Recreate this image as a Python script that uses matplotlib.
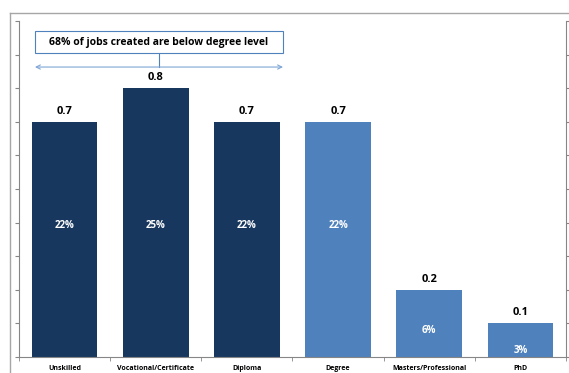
import matplotlib.pyplot as plt
from matplotlib.lines import Line2D
from matplotlib.patches import Rectangle
import numpy as np

categories = ['Unskilled', 'Vocational/Certificate', 'Diploma', 'Degree',
              'Masters/Professional', 'PhD']
values = [0.7, 0.8, 0.7, 0.7, 0.2, 0.1]
shares = ['22%', '25%', '22%', '22%', '6%', '3%']
share_label_y = [0.39, 0.39, 0.39, 0.39, 0.08, 0.02]
below_degree = [True, True, True, False, False, False]
note = '68% of jobs created are below degree level'

dark = '#17375E'
light = '#4F81BD'
axis_grey = '#868686'

plt.rcParams['font.family'] = ['Open Sans', 'DejaVu Sans']

fig = plt.figure(figsize=(5.69, 3.73), dpi=100)
ax = fig.add_axes([19 / 569, 16 / 373, 547 / 569, 336 / 373])

x = np.arange(len(categories))
colors = [dark if b else light for b in below_degree]
ax.bar(x, values, width=0.72, color=colors, zorder=2)

for xi, v, s, sy in zip(x, values, shares, share_label_y):
    ax.text(xi, v + 0.015, f'{v:.1f}', ha='center', va='bottom',
            fontsize=8, fontweight='bold', color='black')
    ax.text(xi, sy, s, ha='center', va='center',
            fontsize=7, fontweight='bold', color='white')

ax.set_xlim(-0.5, len(categories) - 0.5)
ax.set_ylim(0, 1.0)
ax.set_xticks(x)
ax.set_xticklabels(categories, fontsize=5, fontweight='bold')
ax.set_xticks(np.arange(-0.5, len(categories)), minor=True)
ax.tick_params(axis='x', which='major', length=0, pad=6)
ax.tick_params(axis='x', which='minor', length=3, color=axis_grey)
ax.set_yticks(np.arange(0, 1.01, 0.1))
ax.tick_params(axis='y', which='major', length=3, color=axis_grey,
               labelleft=False, right=True)
ax.spines['top'].set_visible(False)
for side in ['left', 'right', 'bottom']:
    ax.spines[side].set_color(axis_grey)
    ax.spines[side].set_linewidth(0.8)

# bracket arrow over the three below-degree bars, with a note box
x0, x1 = -0.325, 2.396
xm = (x0 + x1) / 2
ax.annotate('', xy=(x0, 0.863), xytext=(x1, 0.863),
            arrowprops=dict(arrowstyle='<->,head_length=0.3,head_width=0.15',
                            color='#7FA6D6', lw=0.8, shrinkA=0, shrinkB=0))
ax.plot([xm, xm], [0.863, 0.904], color=light, lw=0.8)
ax.add_patch(Rectangle((x0, 0.904), x1 - x0, 0.066, facecolor='white',
                       edgecolor=light, lw=0.8, zorder=3))
ax.text(xm, 0.937, note, ha='center', va='center', fontsize=7.5,
        fontweight='bold', zorder=4)

# outer frame lines
fig.add_artist(Line2D([10 / 569, 1], [1 - 13 / 373, 1 - 13 / 373],
                      color='#A6A6A6', lw=1))
fig.add_artist(Line2D([10 / 569, 10 / 569], [0, 1 - 13 / 373],
                      color='#A6A6A6', lw=1))

fig.savefig('out.png', dpi=100)
